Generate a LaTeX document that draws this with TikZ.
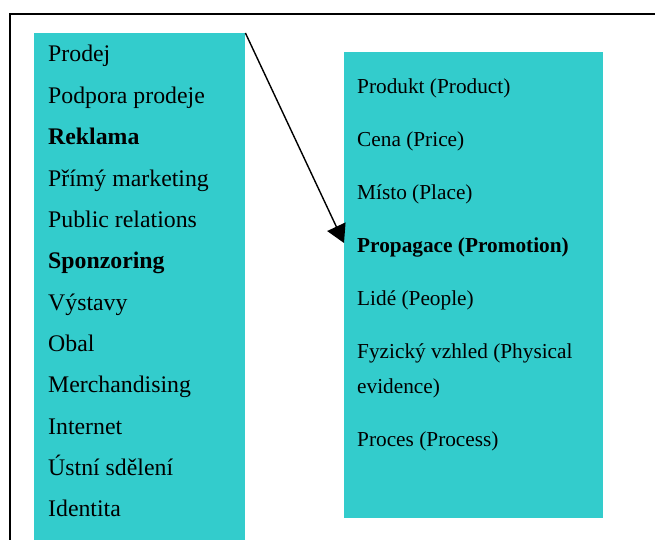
\documentclass[tikz,border=0pt]{standalone}
\usepackage{fontspec}
\setmainfont{Liberation Serif}
\usetikzlibrary{arrows.meta}
\definecolor{mixcyan}{RGB}{51,204,204}

\begin{document}
\begin{tikzpicture}[x=1pt, y=-1pt,
    box/.style={fill=mixcyan, draw=none, anchor=north west, inner sep=0pt},
    toolitem/.style={anchor=base west, inner sep=0pt, font=\fontsize{23.8}{28}\selectfont},
    mixitem/.style={anchor=base west, inner sep=0pt, font=\fontsize{21.3}{26}\selectfont},
    arr/.style={-{Triangle[length=18pt, width=20pt]}, line width=1.4pt}]
  \clip (0,0) rectangle (655,540);
  % outer frame, runs off the right and bottom edge
  \draw[line width=2pt] (10,560) -- (10,14) -- (670,14);
  % communication tools and the marketing mix
  \node[box, minimum width=211pt, minimum height=530pt] (tools) at (34,33) {};
  \node[box, minimum width=259pt, minimum height=466pt] (mix) at (344,52) {};
  \foreach \lbl [count=\i from 0] in {Prodej, Podpora prodeje, \textbf{Reklama},
      Přímý marketing, Public relations, \textbf{Sponzoring}, Výstavy, Obal,
      Merchandising, Internet, Ústní sdělení, Identita}
    \node[toolitem] (t\i) at (48,62+41.35*\i) {\lbl};
  \foreach \y/\lbl [count=\i] in {94/Produkt (Product), 147/Cena (Price),
      199/Místo (Place), 252/\textbf{Propagace (Promotion)}, 305/Lidé (People),
      358/Fyzický vzhled (Physical, 393/evidence), 446/Proces (Process)}
    \node[mixitem] (m\i) at (357,\y) {\lbl};
  \draw[arr] (tools.north east) -- (mix.west |- 0,243);
\end{tikzpicture}
\end{document}
